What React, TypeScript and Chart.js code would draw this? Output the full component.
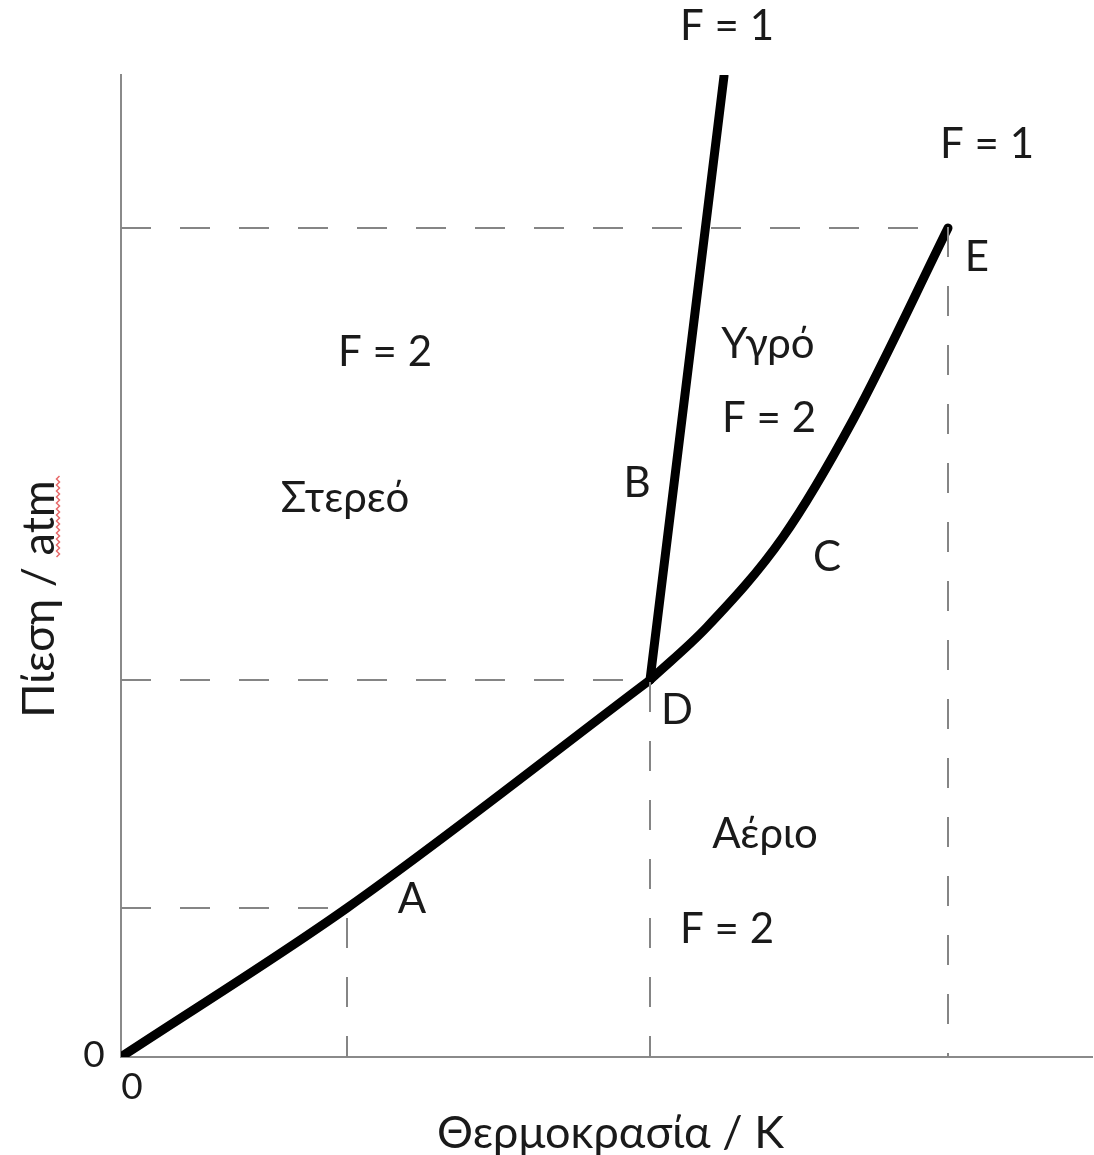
import React, { useEffect, useRef } from "react";
import { Chart, registerables } from "chart.js";

Chart.register(...registerables);

// Axis extents (arbitrary units)
const X_MAX = 971;
const Y_MAX = 982;

// Phase boundaries: [temperature, pressure]
const sublimationT = [0, 226, 529];
const sublimationP = [0, 149, 377];

const fusionT = [529, 603];
const fusionP = [377, 981];

const vaporT = [529, 586, 662, 732, 827];
const vaporP = [377, 430, 520, 637, 829];

// Guide (dashed) points: A, D, E
const guideT = [226, 529, 827];
const guideP = [149, 377, 829];

// Annotation labels: text, T, P (position in data units)
const labelText = ["F = 1", "F = 1", "F = 2", "Υγρό", "F = 2", "Στερεό", "B", "C", "D", "E", "A", "Αέριο", "F = 2"];
const labelT = [606, 866, 264, 647, 648, 224, 516, 706, 556, 856, 291, 644, 606];
const labelP = [1017, 899, 691, 699, 625, 545, 560, 486, 333, 786, 144, 209, 114];

const toXY = (t: number[], p: number[]) => t.map((v, i) => ({ x: v, y: p[i] }));

const guideData = (i: number) => [
  { x: 0, y: guideP[i] },
  { x: guideT[i], y: guideP[i] },
  { x: guideT[i], y: 0 },
];

const FONT = "Lato, 'Open Sans', sans-serif";

const annotationPlugin = {
  id: "annotations",
  afterDraw(chart: any) {
    const ctx = chart.ctx as CanvasRenderingContext2D;
    const xs = chart.scales.x;
    const ys = chart.scales.y;
    const area = chart.chartArea;
    ctx.save();
    ctx.fillStyle = "#1a1a1a";
    ctx.textAlign = "center";
    ctx.textBaseline = "alphabetic";
    ctx.font = `42px ${FONT}`;
    labelText.forEach((txt, i) => {
      ctx.fillText(txt, xs.getPixelForValue(labelT[i]), ys.getPixelForValue(labelP[i]));
    });
    // zero tick labels
    ctx.font = `37px ${FONT}`;
    ctx.fillText("0", area.left - 27, area.bottom + 10);
    ctx.fillText("0", area.left + 11, area.bottom + 42);
    // axis titles
    ctx.font = `45px ${FONT}`;
    ctx.fillText("Θερμοκρασία / K", (area.left + area.right) / 2 + 4, area.bottom + 91);
    ctx.save();
    ctx.translate(54, 599);
    ctx.rotate(-Math.PI / 2);
    ctx.fillText("Πίεση / atm", 0, 0);
    ctx.restore();
    // spell-check squiggle under "atm"
    ctx.strokeStyle = "#e86a6a";
    ctx.lineWidth = 1.5;
    ctx.beginPath();
    let k = 0;
    for (let y = 557; y >= 475; y -= 3) {
      const x = 58 + (k % 2 === 0 ? -1.5 : 1.5);
      if (k === 0) ctx.moveTo(x, y);
      else ctx.lineTo(x, y);
      k++;
    }
    ctx.stroke();
    ctx.restore();
  },
};

export default function App() {
  const ref = useRef<HTMLCanvasElement>(null);
  useEffect(() => {
    document.body.style.margin = "0";
    const canvas = ref.current!;
    const curve = (data: any[]) => ({
      data,
      borderColor: "#000",
      borderWidth: 9,
      pointRadius: 0,
      showLine: true,
      fill: false,
      cubicInterpolationMode: "monotone" as const,
      borderCapStyle: "round" as const,
      borderJoinStyle: "round" as const,
    });
    const guide = (data: any[]) => ({
      data,
      borderColor: "#858585",
      borderWidth: 2,
      borderDash: [30, 29],
      pointRadius: 0,
      showLine: true,
      fill: false,
      tension: 0,
    });
    const chart = new Chart(canvas, {
      type: "scatter",
      data: {
        datasets: [
          guide(guideData(0)),
          guide(guideData(1)),
          guide(guideData(2)),
          curve(toXY(sublimationT, sublimationP)),
          { ...curve(toXY(fusionT, fusionP)), cubicInterpolationMode: "default" as const, tension: 0 },
          curve(toXY(vaporT, vaporP)),
        ],
      },
      options: {
        responsive: false,
        animation: false,
        events: [],
        layout: { padding: { left: 113, top: 75, right: 2, bottom: 90 } },
        plugins: { legend: { display: false }, tooltip: { enabled: false } },
        scales: {
          x: {
            type: "linear",
            min: 0,
            max: X_MAX,
            ticks: { display: false },
            grid: { display: false },
            border: { display: true, color: "#8a8a8a", width: 2 },
          },
          y: {
            type: "linear",
            min: 0,
            max: Y_MAX,
            ticks: { display: false },
            grid: { display: false },
            border: { display: true, color: "#8a8a8a", width: 2 },
          },
        },
      },
      plugins: [annotationPlugin],
    });
    return () => chart.destroy();
  }, []);
  return (
    <div style={{ width: 1094, height: 1155, background: "#fff" }}>
      <canvas ref={ref} width={1094} height={1155} />
    </div>
  );
}
